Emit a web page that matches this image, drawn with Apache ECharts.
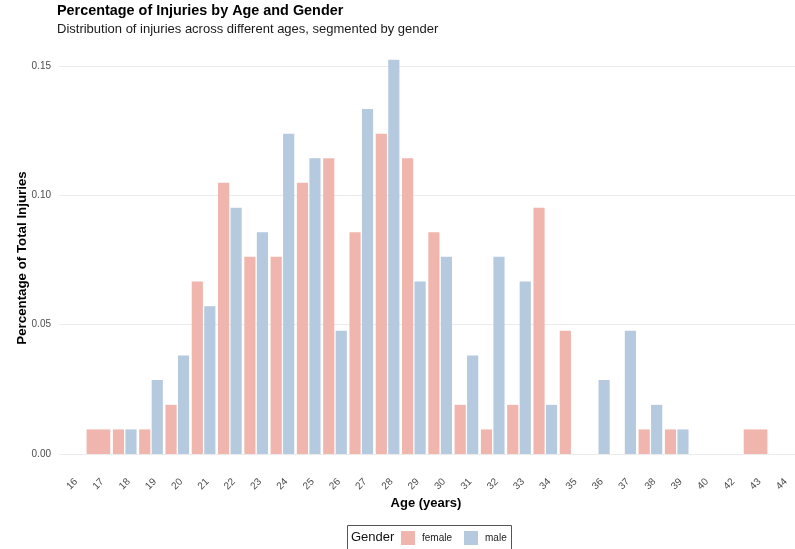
<!DOCTYPE html>
<html>
<head>
<meta charset="utf-8">
<script src="https://cdn.jsdelivr.net/npm/echarts@6/dist/echarts.min.js"></script>
<style>
html,body{margin:0;padding:0;background:#fff;}
#chart{width:795px;height:549px;}
</style>
</head>
<body>
<div id="chart"></div>
<script>
// Age categories (x axis)
var ages = ['16','17','18','19','20','21','22','23','24','25','26','27','28','29','30','31','32','33','34','35','36','37','38','39','40','42','43','44'];
// Female share where both genders are present in the age group (dodged bars)
var female = [null,null,0.0095,0.0095,0.019,0.0667,0.1048,0.0762,0.0762,0.1048,0.1143,0.0857,0.1238,0.1143,0.0857,0.019,0.0095,0.019,0.0952,0.0476,0,0,0.0095,0.0095,null,null,null,null];
// Male share
var male = [null,null,0.0095,0.0286,0.0381,0.0571,0.0952,0.0857,0.1238,0.1143,0.0476,0.1333,0.1524,0.0667,0.0762,0.0381,0.0762,0.0667,0.019,0,0.0286,0.0476,0.019,0.0095,null,null,null,null];
// Female share in age groups with only female records (full-width bars)
var femaleOnly = [null,0.0095,null,null,null,null,null,null,null,null,null,null,null,null,null,null,null,null,null,null,null,null,null,null,null,null,0.0095,null];
// Y tick labels
var yTicks = [0, 0.05, 0.10, 0.15];

var FEMALE = '#F0B5AD', MALE = '#B5C9DF';
var FONT = '"Liberation Sans", Arial, sans-serif';

var chart = echarts.init(document.getElementById('chart'), null, {renderer:'canvas'});
chart.setOption({
  animation: false,
  backgroundColor: '#fff',
  textStyle: {fontFamily: FONT},
  title: {
    text: 'Percentage of Injuries by Age and Gender',
    subtext: 'Distribution of injuries across different ages, segmented by gender',
    left: 57, top: 4, padding: 0, itemGap: 5,
    textStyle: {fontFamily: FONT, fontSize: 14.4, fontWeight: 'bold', color: '#000'},
    subtextStyle: {fontFamily: FONT, fontSize: 13, color: '#1a1a1a'}
  },
  legend: {
    data: ['female', 'male'],
    left: 401, top: 531,
    itemWidth: 14, itemHeight: 14, itemGap: 12,
    icon: 'rect',
    padding: 0,
    textStyle: {fontFamily: FONT, fontSize: 10, color: '#222', padding: [0,0,0,2]}
  },
  graphic: [
    {type: 'rect', left: 345, top: 523, shape: {width: 164, height: 40},
     style: {fill: 'none', stroke: '#555', lineWidth: 1}},
    {type: 'text', left: 351, top: 531,
     style: {text: 'Gender', font: '13px ' + FONT, fill: '#111'}},
    {type: 'text', x: 22, y: 258, rotation: Math.PI/2,
     style: {text: 'Percentage of Total Injuries', font: 'bold 13.3px ' + FONT, fill: '#000', textAlign: 'center', textVerticalAlign: 'middle'}},
    {type: 'text', x: 426, y: 503,
     style: {text: 'Age (years)', font: 'bold 13px ' + FONT, fill: '#000', textAlign: 'center', textVerticalAlign: 'middle'}}
  ],
  grid: {left: 59, right: 0, top: 40, bottom: 95, containLabel: false},
  xAxis: [
    {type: 'category', data: ages,
     axisLine: {show: false}, axisTick: {show: false}, splitLine: {show: false},
     axisLabel: {rotate: 45, interval: 0, margin: 30, align: 'center', verticalAlign: 'middle',
                 fontFamily: FONT, fontSize: 10, color: '#4d4d4d'}},
    {type: 'category', data: ages, show: false}
  ],
  yAxis: {
    type: 'value', min: 0, max: 0.16, interval: 0.05,
    axisLine: {show: false}, axisTick: {show: false},
    splitLine: {show: true, showMaxLine: false, lineStyle: {color: '#ebebeb', width: 1}},
    axisLabel: {margin: 8, fontFamily: FONT, fontSize: 10, color: '#4d4d4d', showMaxLabel: false,
                formatter: function (v) { return yTicks.indexOf(Math.round(v*100)/100) >= 0 ? v.toFixed(2) : ''; }}
  },
  series: [
    {name: 'female', type: 'bar', data: female, xAxisIndex: 0, barCategoryGap: '10%', barGap: '12%',
     itemStyle: {color: FEMALE}},
    {name: 'male', type: 'bar', data: male, xAxisIndex: 0, barCategoryGap: '10%', barGap: '12%',
     itemStyle: {color: MALE}},
    {name: 'female', type: 'bar', data: femaleOnly, xAxisIndex: 1, barCategoryGap: '10%',
     itemStyle: {color: FEMALE}}
  ]
});
</script>
</body>
</html>
